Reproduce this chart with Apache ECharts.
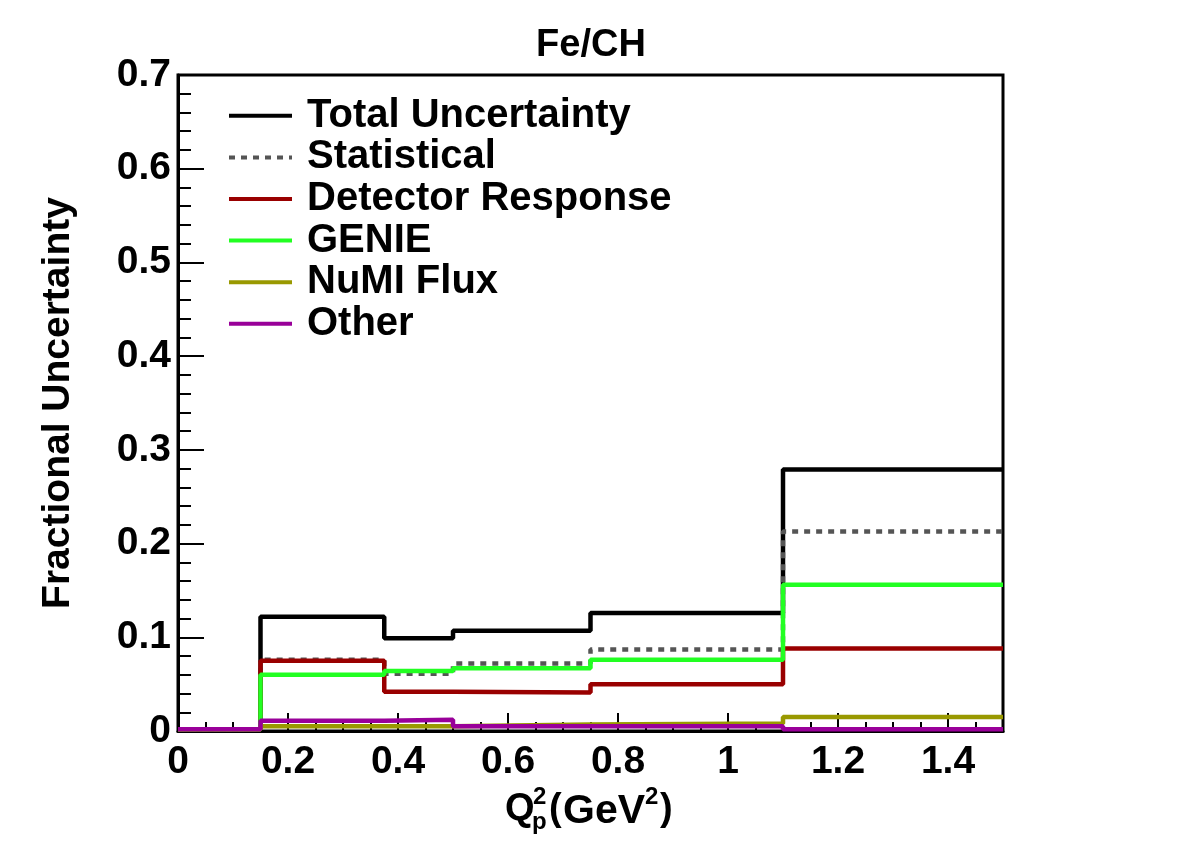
<!DOCTYPE html>
<html>
<head>
<meta charset="utf-8">
<script src="https://cdn.jsdelivr.net/npm/echarts@6/dist/echarts.min.js"></script>
<style>
  html, body { margin: 0; padding: 0; background: #fff; }
  #chart { width: 1182px; height: 861px; }
</style>
</head>
<body>
<div id="chart"></div>
<script>
// bin edges in Q2 (GeV^2)
var binEdges = [0, 0.15, 0.375, 0.5, 0.75, 1.1, 1.5];
// fractional uncertainty per bin
var totalUnc = [0.002, 0.122, 0.099, 0.107, 0.126, 0.279];
var statUnc = [0.002, 0.076, 0.061, 0.072, 0.087, 0.213];
var detectorUnc = [0.002, 0.075, 0.042, 0.041, 0.050, 0.088];
var genieUnc = [0.002, 0.060, 0.064, 0.067, 0.076, 0.156];
var fluxUnc = [0.002, 0.005, 0.005, 0.007, 0.008, 0.015];
var otherUnc = [0.002, 0.011, 0.012, 0.005, 0.005, 0.002];

var xTicks = [0, 0.2, 0.4, 0.6, 0.8, 1, 1.2, 1.4];
var yTicks = [0, 0.1, 0.2, 0.3, 0.4, 0.5, 0.6, 0.7];

var FONT = 'Liberation Sans';

// histogram -> step points (left edge of each bin, plus the last edge)
function histPoints(vals) {
  var pts = [];
  for (var i = 0; i < vals.length; i++) {
    pts.push([binEdges[i], vals[i]]);
  }
  pts.push([binEdges[binEdges.length - 1], vals[vals.length - 1]]);
  return pts;
}

function histSeries(name, vals, color, dash) {
  return {
    name: name,
    type: 'line',
    step: 'end',
    symbol: 'none',
    data: histPoints(vals),
    lineStyle: { color: color, width: 4.5, type: dash || 'solid' },
    itemStyle: { color: color },
    animation: false
  };
}

var chart = echarts.init(document.getElementById('chart'));

var option = {
  backgroundColor: '#fff',
  title: {
    text: 'Fe/CH',
    left: 'center',
    top: 22,
    textStyle: { fontFamily: FONT, fontWeight: 'bold', fontSize: 38, color: '#000' }
  },
  grid: {
    left: 178, right: 179, top: 75, bottom: 130,
    show: true, borderColor: '#000', borderWidth: 3, backgroundColor: '#fff'
  },
  legend: {
    orient: 'vertical',
    left: 222,
    top: 90,
    itemWidth: 63,
    itemHeight: 2,
    itemGap: 0,
    itemStyle: { opacity: 0 },
    lineStyle: { width: 4 },
    textStyle: { fontFamily: FONT, fontWeight: 'bold', fontSize: 40, color: '#000', lineHeight: 41.6, padding: [0, 0, 0, 10] },
    data: ['Total Uncertainty', 'Statistical', 'Detector Response', 'GENIE', 'NuMI Flux', 'Other']
  },
  xAxis: {
    type: 'value',
    min: 0, max: 1.5, interval: 0.2,
    axisLine: { lineStyle: { color: '#000', width: 3 } },
    axisTick: { inside: true, length: 18, lineStyle: { color: '#000', width: 2 } },
    minorTick: { show: true, splitNumber: 4, length: 9, lineStyle: { color: '#000', width: 2 } },
    splitLine: { show: false },
    axisLabel: {
      showMaxLabel: false,
      margin: 12,
      fontFamily: FONT, fontWeight: 'bold', fontSize: 39, color: '#000',
      formatter: function (v) {
        var idx = xTicks.indexOf(Math.round(v * 10) / 10);
        return idx >= 0 ? String(xTicks[idx]) : '';
      }
    }
  },
  yAxis: {
    type: 'value',
    min: 0, max: 0.7, interval: 0.1,
    name: 'Fractional Uncertainty',
    nameLocation: 'middle',
    nameGap: 100,
    nameTextStyle: { fontFamily: FONT, fontWeight: 'bold', fontSize: 39, color: '#000' },
    axisLine: { lineStyle: { color: '#000', width: 3 } },
    axisTick: { inside: true, length: 26, lineStyle: { color: '#000', width: 2 } },
    minorTick: { show: true, splitNumber: 5, length: 13, lineStyle: { color: '#000', width: 2 } },
    splitLine: { show: false },
    axisLabel: {
      margin: 7,
      fontFamily: FONT, fontWeight: 'bold', fontSize: 39, color: '#000',
      formatter: function (v) {
        var idx = yTicks.indexOf(Math.round(v * 10) / 10);
        return idx >= 0 ? String(yTicks[idx]) : '';
      }
    }
  },
  graphic: [
    { type: 'text', left: 505, top: 791, style: { text: 'Q', font: 'bold 38px ' + FONT, fill: '#000' } },
    { type: 'text', left: 533, top: 785, style: { text: '2', font: 'bold 24px ' + FONT, fill: '#000' } },
    { type: 'text', left: 532, top: 810, style: { text: 'p', font: 'bold 24px ' + FONT, fill: '#000' } },
    { type: 'text', left: 549, top: 791, style: { text: '(', font: 'bold 38px ' + FONT, fill: '#000' } },
    { type: 'text', left: 563, top: 791, style: { text: 'GeV', font: 'bold 41px ' + FONT, fill: '#000' } },
    { type: 'text', left: 645, top: 785, style: { text: '2', font: 'bold 24px ' + FONT, fill: '#000' } },
    { type: 'text', left: 660, top: 791, style: { text: ')', font: 'bold 38px ' + FONT, fill: '#000' } }
  ],
  series: [
    histSeries('Total Uncertainty', totalUnc, '#000000'),
    histSeries('Statistical', statUnc, '#555555', [6, 6]),
    histSeries('Detector Response', detectorUnc, '#990000'),
    histSeries('GENIE', genieUnc, '#22ff22'),
    histSeries('NuMI Flux', fluxUnc, '#999900'),
    histSeries('Other', otherUnc, '#990099')
  ]
};

chart.setOption(option);
</script>
</body>
</html>
